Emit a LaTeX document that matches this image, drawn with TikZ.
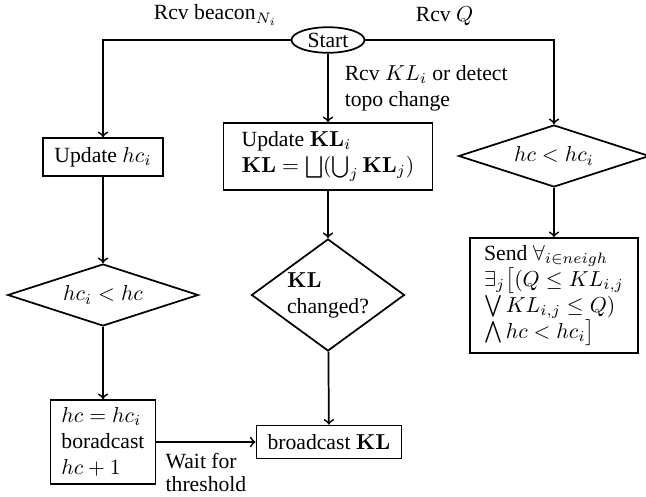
\documentclass[tikz,border=0pt]{standalone}
\usepackage{amsmath,amssymb}
\usepackage[no-math]{fontspec}
\setmainfont{Liberation Serif}
\usetikzlibrary{arrows,positioning,shapes.geometric}

\begin{document}
\begin{tikzpicture}[x=0.4615pt,y=-0.4615pt,
		place/.style={rectangle,draw,thick,align=left},
		decision/.style={diamond,draw,thick,align=left,inner sep=0pt},
		marrow/.style={->,thick}]
		\useasboundingbox (0,0) rectangle (646,497);
		\node [ellipse,draw,thick,minimum width=33.7pt,minimum height=11.8pt,inner sep=0pt] (start) at (328,40) {Start};

		% left column
		\node [place,minimum width=55.4pt,minimum height=17.5pt] (update-hc) at (103,157) {Update \(hc_i\)};
		\node [decision,aspect=3,minimum width=88pt,minimum height=28.6pt] (hc-smaller) at (103,295) {\(hc_i < hc\)};
		\node [place,minimum width=48.5pt,minimum height=38.8pt] (set-hc) at (103,442) {
			\(hc=hc_i\)\\
			boradcast\\
			\(hc+1\)
		};

		% middle column
		\node [place,minimum width=96.5pt,minimum height=30.9pt] (update-kl) at (328,156.5) {
			Update \(\mathbf{KL}_i\)\\
			\(\mathbf{KL}=\bigsqcup(\bigcup_j \mathbf{KL}_j)\)
		};
		\node [decision,aspect=1.37,minimum width=70.6pt,minimum height=51.7pt] (kl-changed) at (328,295) {
			\(\mathbf{KL}\)\\
			changed?
		};
		\node [place,minimum width=67pt,minimum height=15.2pt] (broadcast-kl) at (329,442) {broadcast \(\mathbf{KL}\)};

		% right column
		\node [decision,aspect=3,minimum width=88pt,minimum height=28.6pt] (hc-larger) at (554,156) {\(hc < hc_i\)};
		\node [place,minimum width=77.5pt,minimum height=53pt] (send-q) at (554,295.5) {
			Send \(\forall_{i\in neigh}\)\\
			\(\exists_j\big[(Q\leq KL_{i,j}\)\\
			\(\bigvee KL_{i,j}\leq Q)\)\\
			\(\bigwedge hc<hc_i\big]\)
		};

		% arrows out of start
		\draw [marrow] (start.west) -| node [pos=0.2,above,yshift=3pt] {Rcv beacon\(_{N_i}\)} (update-hc.north);
		\draw [marrow] (start.east) -| node [pos=0.21,above,yshift=3pt] {Rcv \(Q\)} (hc-larger.north);
		\draw [marrow] (start) to node [right,align=left,xshift=4pt] {Rcv \(KL_i\) or detect\\topo change} (update-kl);

		% vertical arrows
		\draw [marrow] (update-hc) to (hc-smaller);
		\draw [marrow] (hc-smaller) to (set-hc);
		\draw [marrow] (update-kl) to (kl-changed);
		\draw [marrow] (kl-changed) to (broadcast-kl);
		\draw [marrow] (hc-larger) to (send-q);

		% horizontal arrow
		\draw [marrow] (set-hc) to node [below,align=left,inner sep=2pt,yshift=-3pt] {Wait for\\[-1.5pt]threshold} (broadcast-kl);
	\end{tikzpicture}
\end{document}
